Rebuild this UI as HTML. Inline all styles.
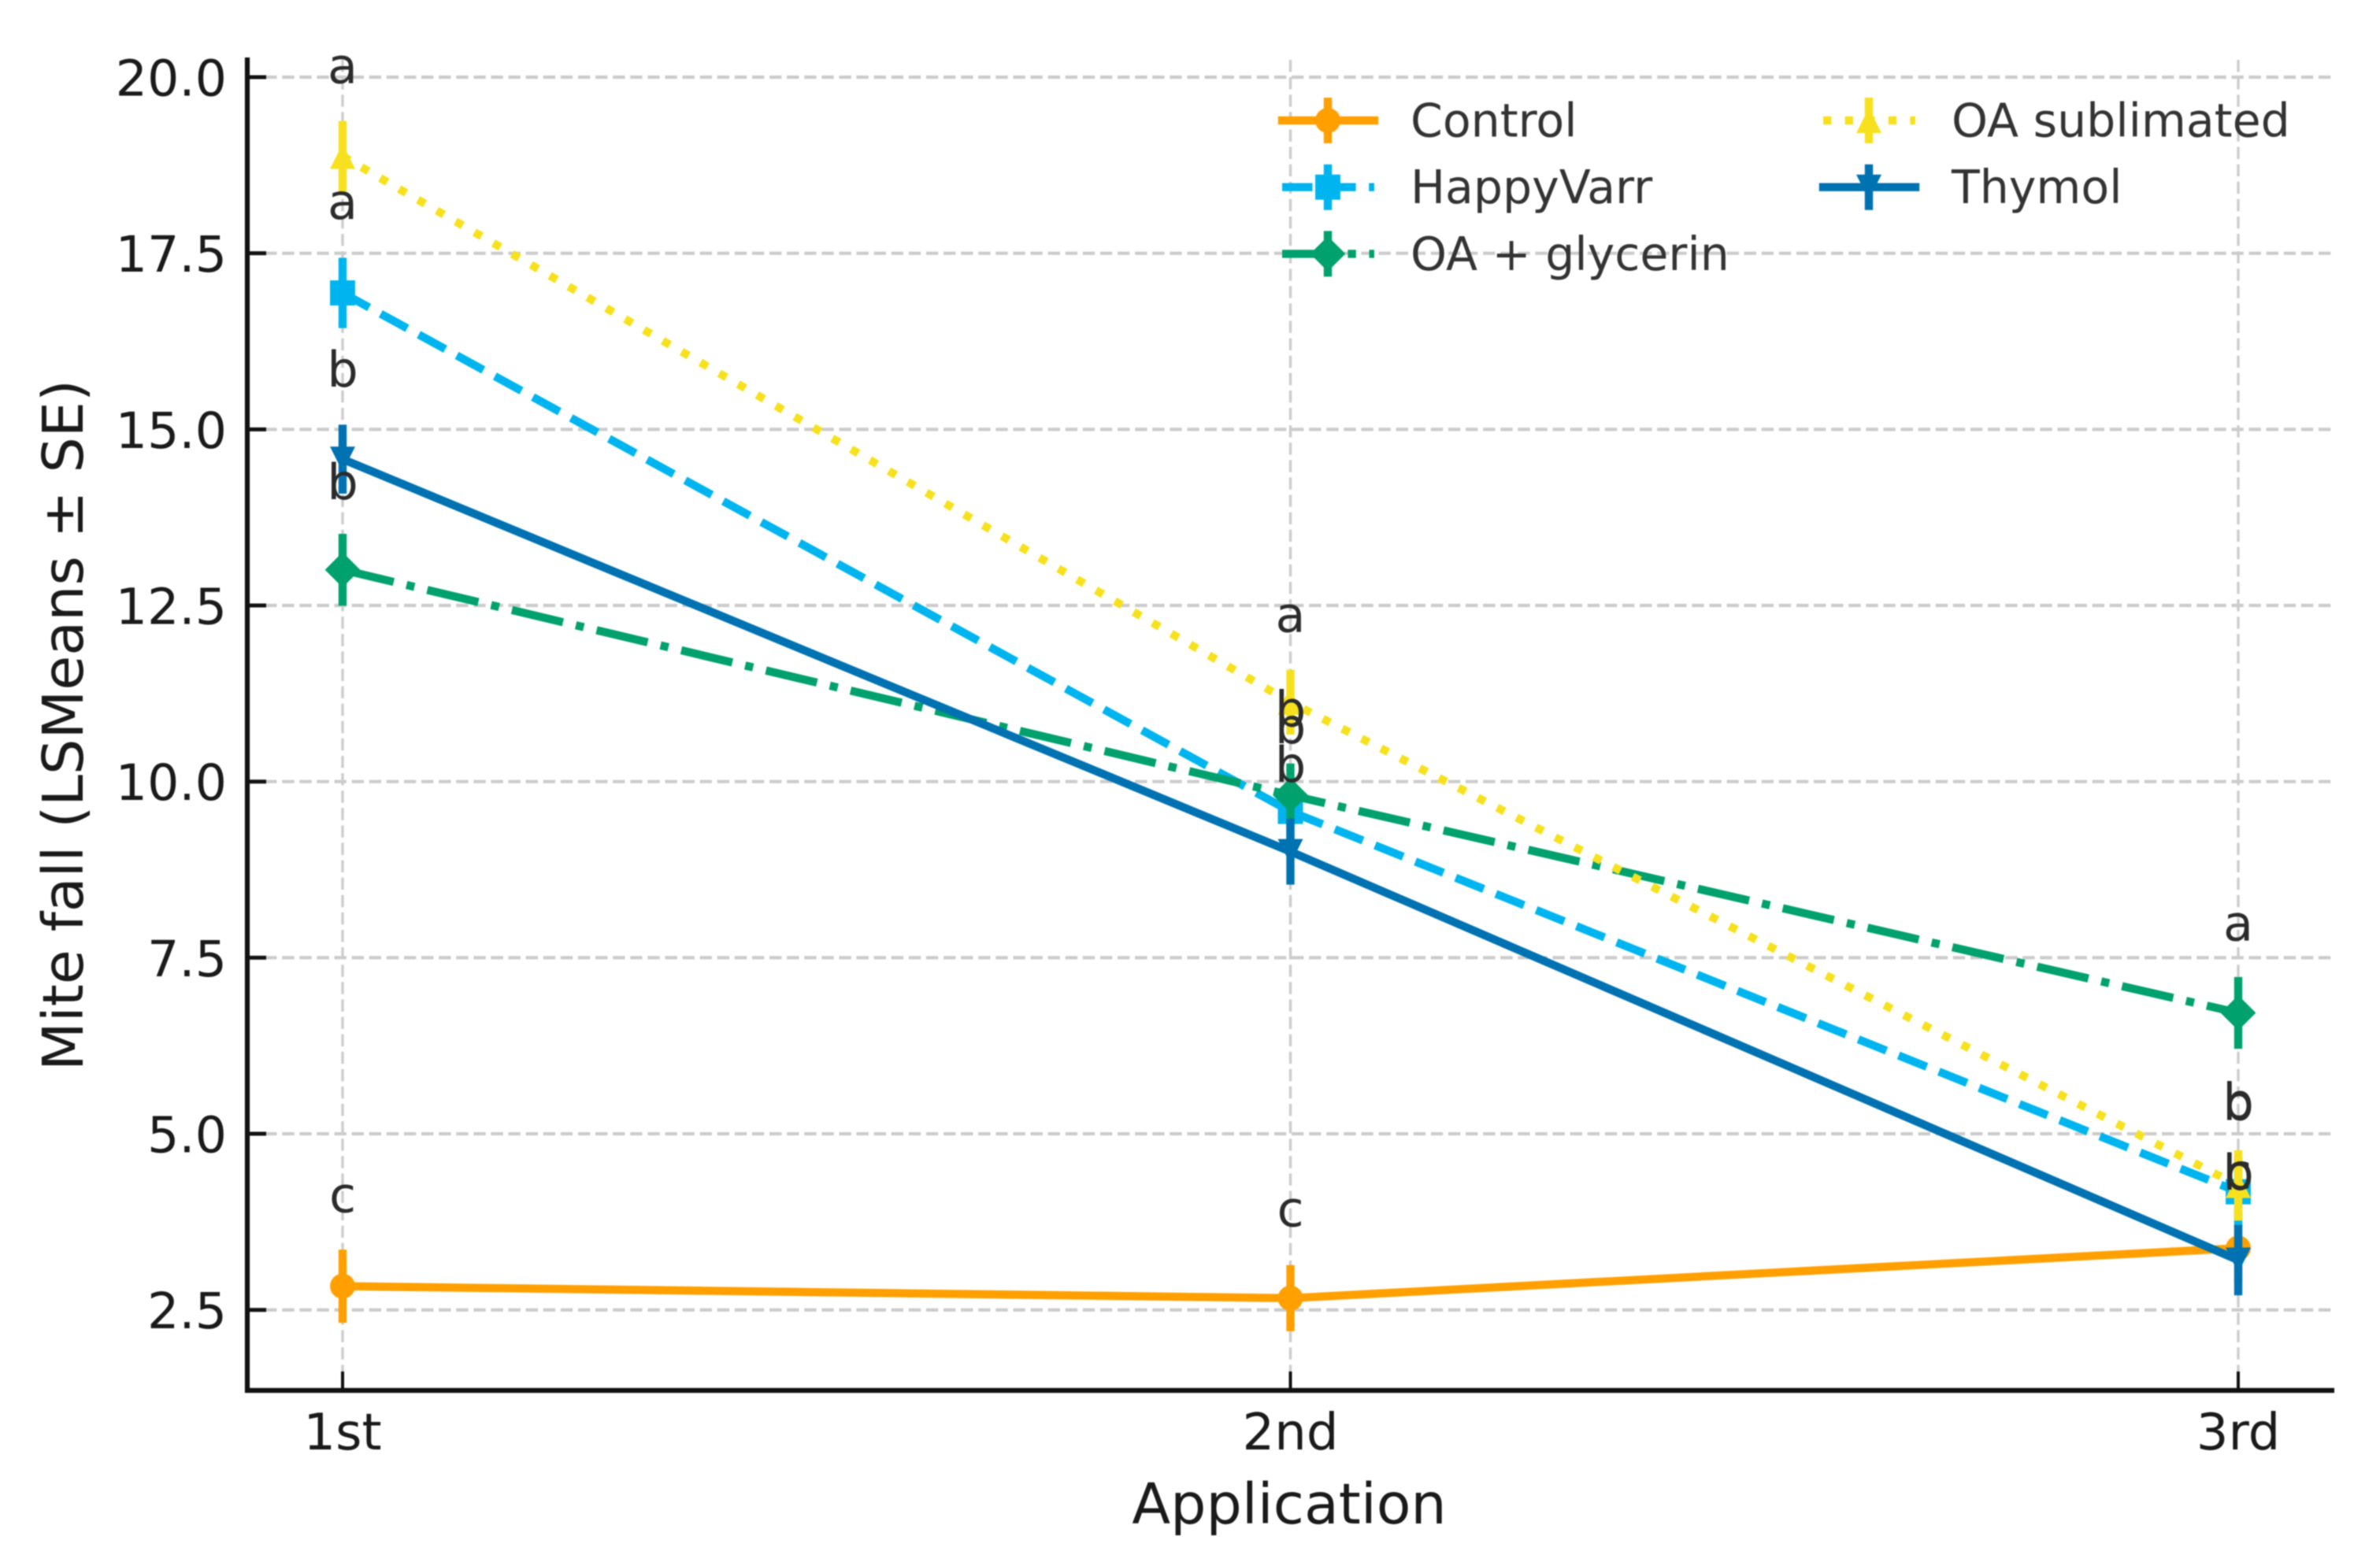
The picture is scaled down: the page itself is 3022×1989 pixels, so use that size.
<!DOCTYPE html>
<html lang="en">
<head>
<meta charset="utf-8">
<title>Mite fall by application</title>
<style>
html,body{margin:0;padding:0;background:#fff;width:3022px;height:1989px;overflow:hidden}
svg{display:block;filter:blur(0.8px)}
text{font-family:"DejaVu Sans","Liberation Sans",sans-serif}
</style>
</head>
<body>
<svg id="chart" xmlns="http://www.w3.org/2000/svg" width="3022" height="1989" viewBox="0 0 3022 1989"></svg>
<script>
const categories = ['1st', '2nd', '3rd'];
const yTicks = [2.5, 5, 7.5, 10, 12.5, 15, 17.5, 20];
const yTickLabels = ['2.5', '5.0', '7.5', '10.0', '12.5', '15.0', '17.5', '20.0'];
const seriesNames = ['Control', 'HappyVarr', 'OA + glycerin', 'OA sublimated', 'Thymol'];
const controlMeans = [2.83, 2.66, 3.37];
const happyVarrMeans = [16.93, 9.57, 4.17];
const glycerinMeans = [13.0, 9.8, 6.71];
const sublimatedMeans = [18.87, 11.12, 4.26];
const thymolMeans = [14.57, 9.0, 3.2];
const controlSE = [0.52, 0.47, 0.5];
const happyVarrSE = [0.5, 0.5, 0.5];
const glycerinSE = [0.51, 0.45, 0.51];
const sublimatedSE = [0.5, 0.46, 0.5];
const thymolSE = [0.49, 0.47, 0.5];
const controlLetters = ['c', 'c', 'c'];
const happyVarrLetters = ['a', 'b', 'b'];
const glycerinLetters = ['b', 'b', 'a'];
const sublimatedLetters = ['a', 'a', 'b'];
const thymolLetters = ['b', 'b', 'b'];
const controlLetterLift = [1.05, 1.02, 0.84];
const happyVarrLetterLift = [1.05, 0.97, 1.02];
const glycerinLetterLift = [1.0, 0.98, 1.03];
const sublimatedLetterLift = [1.04, 1.0, 0.95];
const thymolLetterLift = [1.03, 0.99, 1.0];

const svg = document.getElementById('chart');
const NS = 'http://www.w3.org/2000/svg';
const LW = 10.4;
const plotLeft = 314, plotRight = 2964, plotTop = 73, plotBottom = 1766;

function y(v) { return 97.4 + (20 - v) * 89.47; }
function x(i) { return 435 + i * 1203.5; }

function mk(tag, attrs, parent) {
  const el = document.createElementNS(NS, tag);
  for (const k in attrs) el.setAttribute(k, attrs[k]);
  parent.appendChild(el);
  return el;
}

const styles = [
  {key: 'control', color: '#FFA000', dash: null, marker: 'circle', means: controlMeans, se: controlSE, letters: controlLetters, lift: controlLetterLift},
  {key: 'happyvarr', color: '#00B5EF', dash: '38.5 16.6', marker: 'square', means: happyVarrMeans, se: happyVarrSE, letters: happyVarrLetters, lift: happyVarrLetterLift},
  {key: 'oa-glycerin', color: '#00A16D', dash: '66.7 16.7 10.4 16.7', marker: 'diamond', means: glycerinMeans, se: glycerinSE, letters: glycerinLetters, lift: glycerinLetterLift},
  {key: 'oa-sublimated', color: '#F7E11E', dash: '10.4 17.2', marker: 'triangle-up', means: sublimatedMeans, se: sublimatedSE, letters: sublimatedLetters, lift: sublimatedLetterLift},
  {key: 'thymol', color: '#0072B2', dash: null, marker: 'triangle-down', means: thymolMeans, se: thymolSE, letters: thymolLetters, lift: thymolLetterLift}
];

function drawMarker(kind, cx, cy, color, parent) {
  const r = 16;
  let el;
  if (kind === 'circle') {
    el = mk('circle', {cx: cx, cy: cy, r: r, fill: color}, parent);
  } else if (kind === 'square') {
    el = mk('rect', {x: cx - r, y: cy - r, width: 2 * r, height: 2 * r, fill: color}, parent);
  } else if (kind === 'diamond') {
    el = mk('polygon', {points: [cx, cy - r * 1.4, cx + r * 1.4, cy, cx, cy + r * 1.4, cx - r * 1.4, cy].join(' '), fill: color}, parent);
  } else if (kind === 'triangle-up') {
    el = mk('polygon', {points: [cx, cy - r, cx + r, cy + r, cx - r, cy + r].join(' '), fill: color}, parent);
  } else {
    el = mk('polygon', {points: [cx, cy + r, cx + r, cy - r, cx - r, cy - r].join(' '), fill: color}, parent);
  }
  
  
  return el;
}

// grid
const gridGroup = mk('g', {}, svg);


yTicks.forEach(function (t) {
  const g = mk('line', {x1: plotLeft, x2: plotRight, y1: y(t) + 0.6, y2: y(t) + 0.6, stroke: '#cccccc', 'stroke-width': 4.2, 'stroke-dasharray': '15.4 6.7'}, gridGroup);
  
  
});
categories.forEach(function (c, i) {
  const g = mk('line', {x1: x(i), x2: x(i), y1: 76, y2: plotBottom, stroke: '#cccccc', 'stroke-width': 3.4, 'stroke-dasharray': '15.4 6.7'}, gridGroup);
  
  
});

// series
styles.forEach(function (s) {
  const group = mk('g', {}, svg);
  
  
  const attrs = {points: s.means.map(function (m, i) { return x(i) + ',' + y(m); }).join(' '), fill: 'none', stroke: s.color, 'stroke-width': LW, 'stroke-linejoin': 'round'};
  if (s.dash) attrs['stroke-dasharray'] = s.dash;
  const line = mk('polyline', attrs, group);
  
  
  s.means.forEach(function (m, i) {
    const eb = mk('line', {x1: x(i), x2: x(i), y1: y(m + s.se[i]), y2: y(m - s.se[i]), stroke: s.color, 'stroke-width': LW}, group);
    
    
    drawMarker(s.marker, x(i), y(m), s.color, group);
  });
});

// axes
const axes = mk('g', {}, svg);


const spineL = mk('line', {x1: plotLeft, x2: plotLeft, y1: plotTop, y2: plotBottom + 3, stroke: '#111', 'stroke-width': 6.2}, axes);


const spineB = mk('line', {x1: plotLeft - 3, x2: plotRight, y1: plotBottom, y2: plotBottom, stroke: '#111', 'stroke-width': 6.2}, axes);



yTicks.forEach(function (t, i) {
  const tk = mk('line', {x1: plotLeft, x2: plotLeft + 24, y1: y(t) + 0.6, y2: y(t) + 0.6, stroke: '#111', 'stroke-width': 5}, axes);
  
  
  const lb = mk('text', {x: 288, y: y(t) + 24, 'text-anchor': 'end', 'font-size': 63.5, fill: '#1a1a1a'}, axes);
  lb.textContent = yTickLabels[i];
  
  
});
categories.forEach(function (c, i) {
  const tk = mk('line', {x1: x(i), x2: x(i), y1: plotBottom - 24, y2: plotBottom, stroke: '#111', 'stroke-width': 4}, axes);
  
  
  const lb = mk('text', {x: x(i), y: 1841, 'text-anchor': 'middle', 'font-size': 64, fill: '#1a1a1a'}, axes);
  lb.textContent = c;
  
  
});
const xTitle = mk('text', {x: 1637, y: 1935, 'text-anchor': 'middle', 'font-size': 71.5, fill: '#1a1a1a'}, axes);
xTitle.textContent = 'Application';


const yTitle = mk('text', {transform: 'translate(105 921) rotate(-90)', 'text-anchor': 'middle', 'font-size': 71.6, fill: '#1a1a1a'}, axes);
yTitle.textContent = 'Mite fall (LSMeans ± SE)';



// significance letters
styles.forEach(function (s) {
  s.letters.forEach(function (l, i) {
    const t = mk('text', {x: x(i), y: y(s.means[i] + s.lift[i]), 'text-anchor': 'middle', 'font-size': 62, fill: '#2b2b2b'}, svg);
    t.textContent = l;
    
    
  });
});

// legend
const legend = mk('g', {}, svg);


styles.forEach(function (s, i) {
  const col = i < 3 ? 0 : 1;
  const row = i < 3 ? i : i - 3;
  const cx = col === 0 ? 1686 : 2373;
  const cy = 153 + row * 84.7;
  const entry = mk('g', {}, legend);
  
  
  const attrs = {x1: cx - 58, x2: cx + 59, y1: cy, y2: cy, stroke: s.color, 'stroke-width': LW};
  if (s.dash) attrs['stroke-dasharray'] = s.dash; else attrs['stroke-linecap'] = 'square';
  const h = mk('line', attrs, entry);
  
  
  const e = mk('line', {x1: cx, x2: cx, y1: cy - 29, y2: cy + 29, stroke: s.color, 'stroke-width': LW}, entry);
  
  
  drawMarker(s.marker, cx, cy, s.color, entry);
  const t = mk('text', {x: cx + 105, y: cy + 20.5, 'font-size': 58.5, fill: '#333333'}, entry);
  t.textContent = seriesNames[i];
  
  
});
</script>
</body>
</html>
